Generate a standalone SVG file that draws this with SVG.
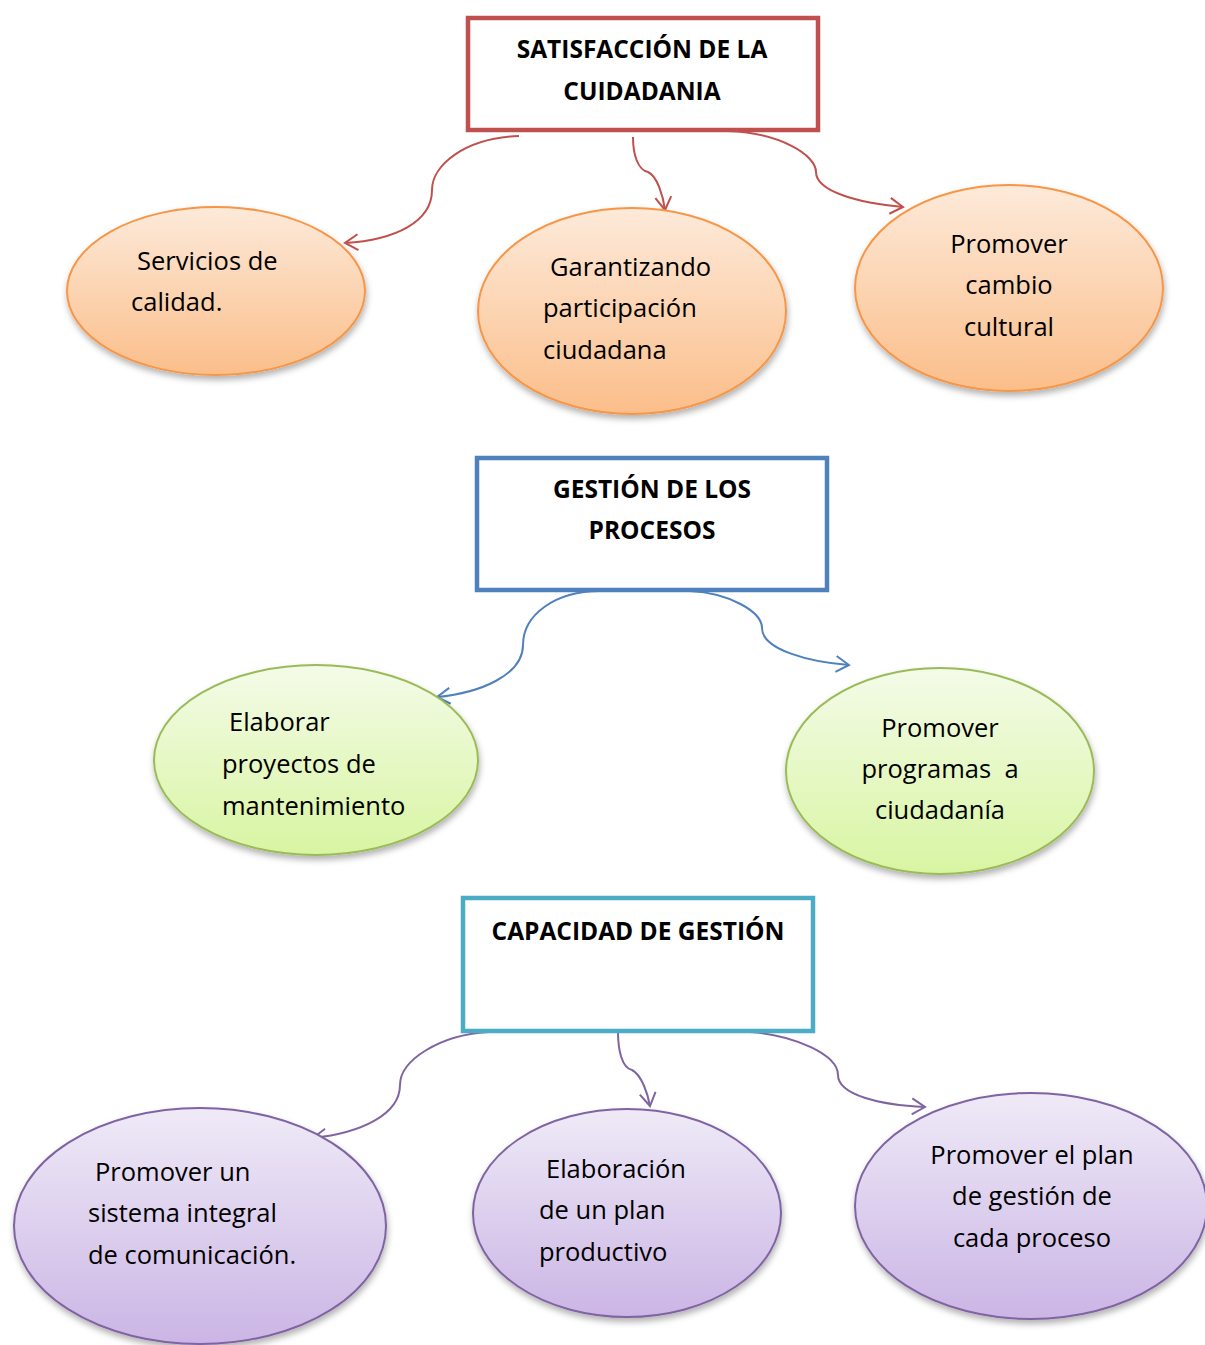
<svg xmlns="http://www.w3.org/2000/svg" width="1205" height="1345" viewBox="0 0 1205 1345">
<style>
.box{fill:#fff;stroke-width:4.5}
.title{font-family:"Open Sans","Liberation Sans",sans-serif;font-weight:bold;font-size:24.5px;fill:#000}
.lbl{font-family:"Open Sans","Liberation Sans",sans-serif;font-size:25.5px;fill:#000}
.c{fill:none;stroke-width:2}
.or{stroke:#F79646;stroke-width:2}
.gr{stroke:#9BBB59;stroke-width:2}
.pu{stroke:#8064A2;stroke-width:2}
</style>
<defs>
<linearGradient id="gO" x1="0" y1="0" x2="0" y2="1"><stop offset="0" stop-color="#FDEADA"/><stop offset="1" stop-color="#FBBE8A"/></linearGradient>
<linearGradient id="gG" x1="0" y1="0" x2="0" y2="1"><stop offset="0" stop-color="#F4FBE8"/><stop offset="1" stop-color="#D8F5A2"/></linearGradient>
<linearGradient id="gP" x1="0" y1="0" x2="0" y2="1"><stop offset="0" stop-color="#EFEAF7"/><stop offset="1" stop-color="#CBB5E5"/></linearGradient>
<filter id="sh" x="-10%" y="-10%" width="125%" height="130%"><feDropShadow dx="1" dy="4" stdDeviation="3" flood-color="#000" flood-opacity="0.3"/></filter>
<marker id="aR" markerWidth="22" markerHeight="22" refX="15" refY="9" orient="auto" markerUnits="userSpaceOnUse"><path d="M2,1 L15,9 L2,17" fill="none" stroke="#C0504D" stroke-width="2"/></marker>
<marker id="aB" markerWidth="22" markerHeight="22" refX="15" refY="9" orient="auto" markerUnits="userSpaceOnUse"><path d="M2,1 L15,9 L2,17" fill="none" stroke="#4F81BD" stroke-width="2"/></marker>
<marker id="aP" markerWidth="22" markerHeight="22" refX="15" refY="9" orient="auto" markerUnits="userSpaceOnUse"><path d="M2,1 L15,9 L2,17" fill="none" stroke="#8064A2" stroke-width="2"/></marker>
</defs>
<rect width="1205" height="1345" fill="#fff"/>

<g id="connectors">
<path class="c" stroke="#C0504D" marker-end="url(#aR)" d="M519,136 C465,138 432,165 432,190 C432,222 395,240 345,243"/>
<path class="c" stroke="#C0504D" marker-end="url(#aR)" d="M633,137 C633,155 638,170 648,172 C657,176 663,195 665,210"/>
<path class="c" stroke="#C0504D" marker-end="url(#aR)" d="M728,131 C780,133 816,155 816,172 C816,192 860,203 903,207"/>
<path class="c" stroke="#4F81BD" marker-end="url(#aB)" d="M600,591 C555,591 523,615 523,645 C523,675 480,693 437,697"/>
<path class="c" stroke="#4F81BD" marker-end="url(#aB)" d="M690,591 C730,593 762,612 762,628 C762,650 810,662 849,665"/>
<path class="c" stroke="#8064A2" marker-end="url(#aP)" d="M488,1032 C440,1035 400,1060 400,1085 C400,1115 360,1133 313,1138"/>
<path class="c" stroke="#8064A2" marker-end="url(#aP)" d="M618,1032 C618,1050 622,1068 632,1070 C642,1075 648,1095 650,1106"/>
<path class="c" stroke="#8064A2" marker-end="url(#aP)" d="M750,1032 C795,1035 838,1055 838,1075 C838,1095 880,1105 925,1107"/>
</g>

<g id="satisfaccion">
<rect class="box" x="468" y="18" width="350" height="112" stroke="#C0504D"/>
<text class="title" x="642" y="58" text-anchor="middle">SATISFACCIÓN DE LA</text>
<text class="title" x="642" y="100" text-anchor="middle">CUIDADANIA</text>
</g>
<g id="servicios">
<ellipse cx="216" cy="291" rx="149" ry="84" fill="url(#gO)" class="or" filter="url(#sh)"/>
<text class="lbl" x="137" y="270">Servicios de</text>
<text class="lbl" x="131" y="311">calidad.</text>
</g>
<g id="garantizando">
<ellipse cx="632" cy="311" rx="154" ry="103" fill="url(#gO)" class="or" filter="url(#sh)"/>
<text class="lbl" x="550" y="276">Garantizando</text>
<text class="lbl" x="543" y="317">participación</text>
<text class="lbl" x="543" y="359">ciudadana</text>
</g>
<g id="cambio">
<ellipse cx="1009" cy="288" rx="154" ry="103" fill="url(#gO)" class="or" filter="url(#sh)"/>
<text class="lbl" x="1009" y="253" text-anchor="middle">Promover</text>
<text class="lbl" x="1009" y="294" text-anchor="middle">cambio</text>
<text class="lbl" x="1009" y="336" text-anchor="middle">cultural</text>
</g>

<g id="gestion">
<rect class="box" x="477" y="458" width="350" height="132" stroke="#4F81BD"/>
<text class="title" x="652" y="498" text-anchor="middle">GESTIÓN DE LOS</text>
<text class="title" x="652" y="539" text-anchor="middle">PROCESOS</text>
</g>
<g id="elaborar">
<ellipse cx="316" cy="760" rx="162" ry="95" fill="url(#gG)" class="gr" filter="url(#sh)"/>
<text class="lbl" x="229" y="731">Elaborar</text>
<text class="lbl" x="222" y="773">proyectos de</text>
<text class="lbl" x="222" y="815">mantenimiento</text>
</g>
<g id="programas">
<ellipse cx="940" cy="771" rx="154" ry="103" fill="url(#gG)" class="gr" filter="url(#sh)"/>
<text class="lbl" x="940" y="737" text-anchor="middle">Promover</text>
<text class="lbl" x="940" y="778" text-anchor="middle" xml:space="preserve">programas  a</text>
<text class="lbl" x="940" y="819" text-anchor="middle">ciudadanía</text>
</g>

<g id="capacidad">
<rect class="box" x="463" y="898" width="350" height="133" stroke="#4BACC6"/>
<text class="title" x="638" y="940" text-anchor="middle">CAPACIDAD DE GESTIÓN</text>
</g>
<g id="comunicacion">
<ellipse cx="200" cy="1226" rx="186" ry="118" fill="url(#gP)" class="pu" filter="url(#sh)"/>
<text class="lbl" x="95" y="1181">Promover un</text>
<text class="lbl" x="88" y="1222">sistema integral</text>
<text class="lbl" x="88" y="1264">de comunicación.</text>
</g>
<g id="productivo">
<ellipse cx="627" cy="1213" rx="154" ry="104" fill="url(#gP)" class="pu" filter="url(#sh)"/>
<text class="lbl" x="546" y="1178">Elaboración</text>
<text class="lbl" x="539" y="1219">de un plan</text>
<text class="lbl" x="539" y="1261">productivo</text>
</g>
<g id="plangestion">
<ellipse cx="1031" cy="1206" rx="176" ry="113" fill="url(#gP)" class="pu" filter="url(#sh)"/>
<text class="lbl" x="1032" y="1164" text-anchor="middle">Promover el plan</text>
<text class="lbl" x="1032" y="1205" text-anchor="middle">de gestión de</text>
<text class="lbl" x="1032" y="1247" text-anchor="middle">cada proceso</text>
</g>
</svg>
